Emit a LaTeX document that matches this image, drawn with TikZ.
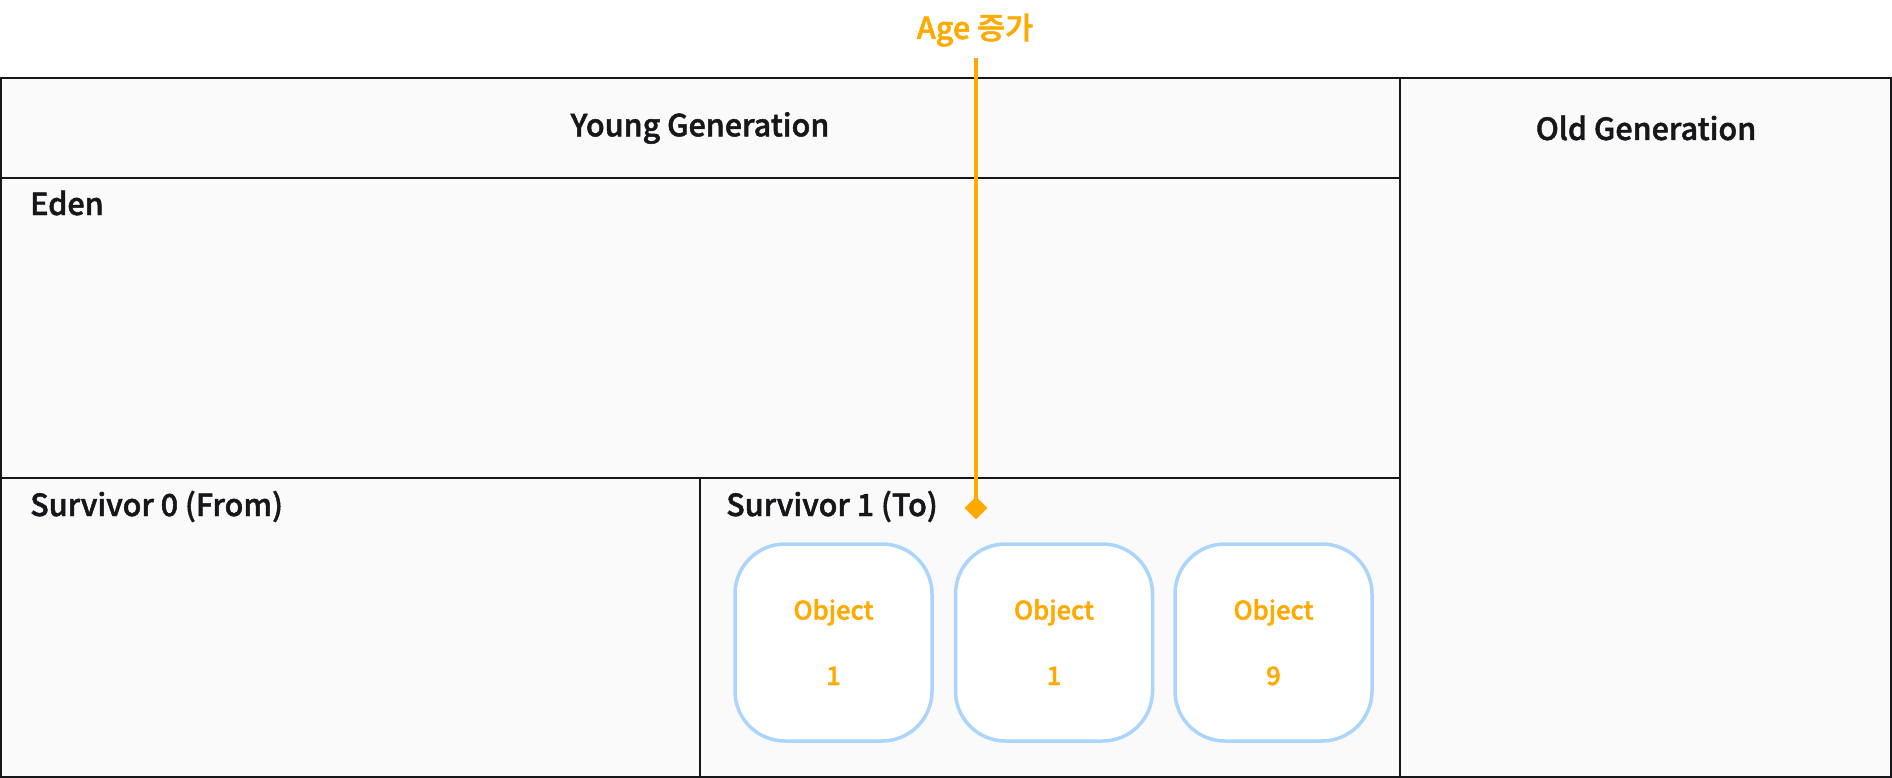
\documentclass[tikz,border=0pt]{standalone}
\usepackage{fontspec}
\setmainfont{Noto Sans CJK KR}[BoldFont={Noto Sans CJK KR Medium},BoldFeatures={FakeBold=1.6}]
\newfontfamily\kr{Noto Sans CJK KR}[BoldFont={Noto Sans CJK KR Medium},BoldFeatures={FakeBold=1.6}]
\usetikzlibrary{shapes.geometric}
\definecolor{ink}{HTML}{17171B}
\definecolor{panelfill}{HTML}{FAFAFA}
\definecolor{amber}{HTML}{FFAA00}
\definecolor{skyline}{HTML}{ACD5FD}
\tikzset{
  panel/.style={draw=ink, line width=2pt, fill=panelfill},
  title/.style={font=\fontsize{30.5}{36}\selectfont\bfseries, text=ink, inner sep=0pt},
  objbox/.style={draw=skyline, line width=3.5pt, fill=white, rounded corners=50pt,
    minimum width=197pt, minimum height=197pt, inner sep=0pt},
  objtext/.style={font=\fontsize{25.5}{30}\selectfont\bfseries, text=amber, inner sep=0pt, anchor=base},
  agelink/.style={draw=amber, line width=4pt},
  agetip/.style={diamond, fill=amber, minimum width=23pt, minimum height=23pt, inner sep=0pt},
}
\begin{document}
\begin{tikzpicture}[x=1pt,y=-1pt]
\useasboundingbox (0,0) rectangle (1892,778);
% panels
\draw[panel] (1,78) rectangle (1400,178);
\draw[panel] (1,178) rectangle (1400,478);
\draw[panel] (1,478) rectangle (700,777);
\draw[panel] (700,478) rectangle (1400,777);
\draw[panel] (1400,78) rectangle (1891,777);
% titles
\node[title] (young) at (700,128) {Young Generation};
\node[title] (old) at (1646,128) {Old Generation};
\node[title, anchor=base west] (eden) at (30,215) {Eden};
\node[title, anchor=base west] (s0) at (30,516) {Survivor 0 (From)};
\node[title, anchor=base west] (s1) at (726,516) {Survivor 1 (To)};
% objects
\node[objbox] (o1) at (833.5,642.5) {};
\node[objbox] (o2) at (1054,642.5) {};
\node[objbox] (o3) at (1273.5,642.5) {};
\foreach \b/\n in {o1/1,o2/1,o3/9}{
  \node[objtext] (\b t) at ([yshift=23pt]\b.center) {Object};
  \node[objtext] (\b n) at ([yshift=-42.5pt]\b.center) {\n};
}
% age label and connector
\node[title, text=amber, anchor=base] (age) at (975,39) {Age {\kr 증가}};
\coordinate (agetop) at (976,58);
\coordinate (ageend) at (976,508);
\draw[agelink] (agetop) -- (ageend);
\node[agetip] (tip) at (ageend) {};
\end{tikzpicture}
\end{document}
